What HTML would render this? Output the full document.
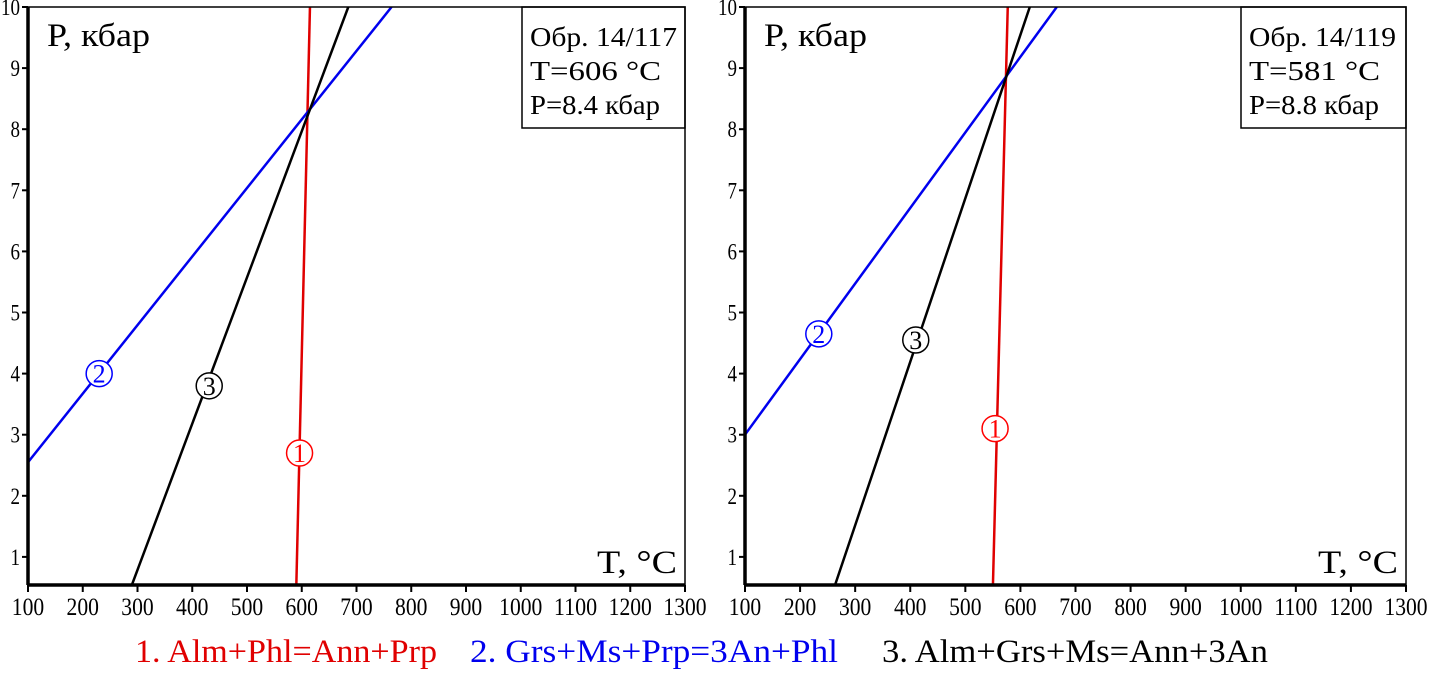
<!DOCTYPE html>
<html><head><meta charset="utf-8"><style>
body{margin:0;background:#fff}
svg{display:block;font-family:"Liberation Serif",serif}
</style></head><body>
<svg id="chart" width="1429" height="673" viewBox="0 0 1429 673" xmlns="http://www.w3.org/2000/svg"></svg>
<script>
const xTicks=[100,200,300,400,500,600,700,800,900,1000,1100,1200,1300];
const yTicks=[1,2,3,4,5,6,7,8,9,10];
const leftRed=[[590,0.5],[615,10]];
const leftBlue=[[100,2.55],[764,10]];
const leftBlack=[[288,0.5],[685,10]];
const leftMarkers=[["1",596,2.7,"red"],["2",230,4.0,"blue"],["3",431,3.8,"black"]];
const rightRed=[[550,0.5],[577,10]];
const rightBlue=[[100,3.0],[666,10]];
const rightBlack=[[262,0.5],[617,10]];
const rightMarkers=[["1",554,3.1,"red"],["2",234,4.65,"blue"],["3",410,4.55,"black"]];
const panels=[
 {name:"left",x0:28,x1:685,red:leftRed,blue:leftBlue,black:leftBlack,markers:leftMarkers,info:["Обр. 14/117","T=606 °C","P=8.4 кбар"],box:522},
 {name:"right",x0:745,x1:1406,red:rightRed,blue:rightBlue,black:rightBlack,markers:rightMarkers,info:["Обр. 14/119","T=581 °C","P=8.8 кбар"],box:1241}
];
const NS="http://www.w3.org/2000/svg";
const svg=document.getElementById('chart');
const y0=7,yB=585,pMax=10,pMin=10-(yB-y0)/61.1;
function mk(t,a,p){const e=document.createElementNS(NS,t);for(const k in a)e.setAttribute(k,a[k]);(p||svg).appendChild(e);return e;}
const infoW=[147,131,130];
panels.forEach(pn=>{
 const g=mk('g',{});
 
 
 const sx=t=>pn.x0+(t-100)/1200*(pn.x1-pn.x0);
 const sy=p=>y0+(pMax-p)/(pMax-pMin)*(yB-y0);
 const clip=mk('clipPath',{id:'c'+pn.name},g);
 mk('rect',{x:pn.x0,y:y0,width:pn.x1-pn.x0,height:yB-y0},clip);
 [["red","#e00000",2.5],["blue","#0000ee",2.5],["black","#000",2.5]].forEach(([k,c,w])=>{
  const d=pn[k];
  const l=mk('line',{x1:sx(d[0][0]),y1:sy(d[0][1]),x2:sx(d[1][0]),y2:sy(d[1][1]),stroke:c,'stroke-width':w,'clip-path':'url(#c'+pn.name+')'},g);
  
  
 });
 pn.markers.forEach(m=>{
  const mg=mk('g',{},g);
  
  
  mk('circle',{cx:sx(m[1]),cy:sy(m[2]),r:13,fill:'#fff',stroke:m[3],'stroke-width':1.5},mg);
  const t=mk('text',{x:sx(m[1]),y:sy(m[2])+9,'text-anchor':'middle','font-size':26,fill:m[3]},mg);t.textContent=m[0];
 });
 const ib=mk('g',{},g);
 
 
 mk('rect',{x:pn.box,y:y0,width:pn.x1-pn.box,height:121,fill:'#fff',stroke:'#000','stroke-width':1.5},ib);
 pn.info.forEach((s,i)=>{const t=mk('text',{x:pn.box+8,y:46+i*34,'font-size':27,textLength:infoW[i],lengthAdjust:'spacingAndGlyphs'},ib);t.textContent=s;});
 const fr=mk('rect',{x:pn.x0,y:y0,width:pn.x1-pn.x0,height:yB-y0,fill:'none',stroke:'#000','stroke-width':1.5},g);
 
 
 mk('line',{x1:pn.x0,y1:y0,x2:pn.x0,y2:yB,stroke:'#000','stroke-width':3.5},g);
 mk('line',{x1:pn.x0,y1:yB,x2:pn.x1,y2:yB,stroke:'#000','stroke-width':3.5},g);
 const xa=mk('g',{},g);
 
 
 xTicks.forEach(v=>{mk('line',{x1:sx(v),y1:yB,x2:sx(v),y2:yB+7,stroke:'#000','stroke-width':2},xa);
  const s=String(v);
  const t=mk('text',{x:sx(v)-s.length*5.4,y:yB+30,'font-size':25,textLength:s.length*10.8,lengthAdjust:'spacingAndGlyphs'},xa);t.textContent=s;});
 const ya=mk('g',{},g);
 
 
 yTicks.forEach(v=>{mk('line',{x1:pn.x0-6,y1:sy(v),x2:pn.x0,y2:sy(v),stroke:'#000','stroke-width':2},ya);
  const s=String(v);
  const t=mk('text',{x:pn.x0-8-s.length*9.5,y:sy(v)+8,'font-size':23,textLength:s.length*9.5,lengthAdjust:'spacingAndGlyphs'},ya);t.textContent=s;});
 const yt=mk('text',{x:pn.x0+19,y:46,'font-size':33,textLength:103,lengthAdjust:'spacingAndGlyphs'},g);yt.textContent='P, кбар';
 
 
 const xt=mk('text',{x:pn.x1-88,y:573,'font-size':33,textLength:80,lengthAdjust:'spacingAndGlyphs'},g);xt.textContent='T, °C';
 
 
});
const legend=[["1. Alm+Phl=Ann+Prp","#e00000",135,302],["2. Grs+Ms+Prp=3An+Phl","#0000ee",470,368],["3. Alm+Grs+Ms=Ann+3An","#000",882,386]];
legend.forEach(l=>{const t=mk('text',{x:l[2],y:662,'font-size':33,fill:l[1],textLength:l[3],lengthAdjust:'spacingAndGlyphs'});t.textContent=l[0];
 
 });
</script>
</body></html>
